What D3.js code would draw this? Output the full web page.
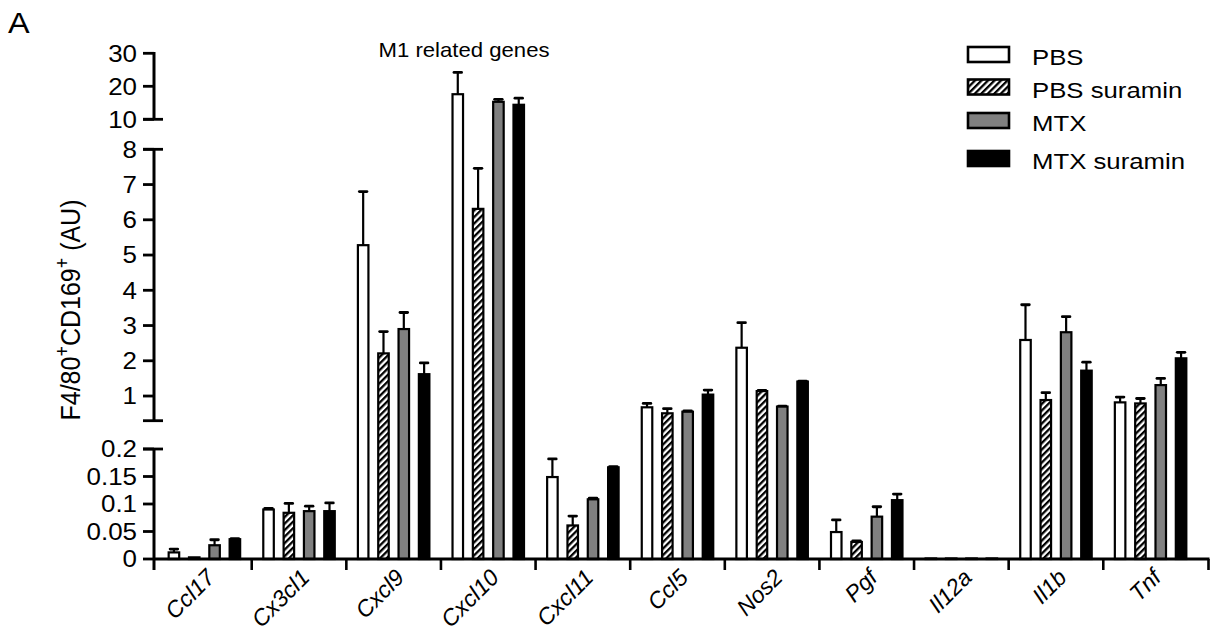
<!DOCTYPE html>
<html>
<head>
<meta charset="utf-8">
<script src="https://cdn.jsdelivr.net/npm/d3@7"></script>
<style>
  html, body { margin: 0; padding: 0; background: #fff; }
  svg { display: block; font-family: "Liberation Sans", Arial, sans-serif; }
</style>
</head>
<body>
<svg id="chart" width="1213" height="636"></svg>
<script>
// ---------- data ----------
const categories = ["Ccl17","Cx3cl1","Cxcl9","Cxcl10","Cxcl11","Ccl5","Nos2","Pgf","Il12a","Il1b","Tnf"];
const seriesNames = ["PBS","PBS suramin","MTX","MTX suramin"];
const pbs        = [0.012, 0.090, 5.28, 17.6, 0.149, 0.68, 2.37, 0.049, 0.001, 2.59, 0.82];
const pbsErr     = [0.006, 0.002, 1.52, 6.6, 0.033, 0.11, 0.71, 0.022, 0.000, 1.00, 0.15];
const pbsSur     = [0.003, 0.084, 2.21, 6.31, 0.061, 0.51, 1.14, 0.031, 0.001, 0.886, 0.79];
const pbsSurErr  = [0.000, 0.017, 0.62, 1.15, 0.017, 0.13, 0.02, 0.002, 0.000, 0.21, 0.14];
const mtx        = [0.025, 0.087, 2.90, 15.3, 0.1085, 0.555, 0.70, 0.077, 0.001, 2.81, 1.31];
const mtxErr     = [0.010, 0.009, 0.47, 0.75, 0.002, 0.02, 0.01, 0.018, 0.000, 0.44, 0.19];
const mtxSur     = [0.036, 0.087, 1.62, 14.4, 0.1667, 1.04, 1.41, 0.107, 0.001, 1.72, 2.07];
const mtxSurErr  = [0.001, 0.015, 0.32, 2.0, 0.001, 0.13, 0.01, 0.011, 0.000, 0.24, 0.17];
const ticksTop = [10, 20, 30];
const ticksMid = [1, 2, 3, 4, 5, 6, 7, 8];
const ticksBot = [0, 0.05, 0.1, 0.15, 0.2];
const tickLabel = v => String(v);

const seriesValues = [pbs, pbsSur, mtx, mtxSur];
const seriesErrors = [pbsErr, pbsSurErr, mtxErr, mtxSurErr];

// ---------- layout ----------
const svg = d3.select("#chart");
const FONT = '"Liberation Sans", Arial, sans-serif';
const SX = 1.08; // horizontal stretch of the reference text

const axisX = 154;
const baseY = 559;
// broken (polylinear) y scale: [0,0.2] | [0.3,8] | [10,30]
const y = d3.scaleLinear()
  .domain([0, 0.2, 0.3, 8, 10, 30])
  .range([559, 449, 420.7, 149.3, 119.3, 53.3]);

const x = d3.scaleBand().domain(categories).range([157.1, 1197.9]).padding(0);
const xs = d3.scaleBand().domain(seriesNames).range([0, x.bandwidth()])
  .paddingInner(0.384).paddingOuter(0.52);

const fills = ["#ffffff", "url(#hatch)", "#808080", "#000000"];

// hatch pattern
const defs = svg.append("defs");
const pat = defs.append("pattern").attr("id", "hatch")
  .attr("patternUnits", "userSpaceOnUse").attr("width", 4.6).attr("height", 4.6)
  .attr("patternTransform", "rotate(45)");
pat.append("rect").attr("width", 4.6).attr("height", 4.6).attr("fill", "#fff");
pat.append("rect").attr("x", 0).attr("width", 2.3).attr("height", 4.6).attr("fill", "#000");

// ---------- bars ----------
const barData = [];
categories.forEach((c, i) => {
  seriesNames.forEach((s, j) => {
    barData.push({ c, s, j, v: seriesValues[j][i], e: seriesErrors[j][i] });
  });
});

const gBars = svg.append("g");
gBars.selectAll("g.err").data(barData.filter(d => d.e > 0)).join("g").attr("class", "err")
  .each(function(d) {
    const cx = x(d.c) + xs(d.s) + xs.bandwidth() / 2;
    const g = d3.select(this);
    g.append("line").attr("x1", cx).attr("x2", cx)
      .attr("y1", y(d.v)).attr("y2", y(d.v + d.e))
      .attr("stroke", "#000").attr("stroke-width", 2.2);
    g.append("line").attr("x1", cx - 3.8).attr("x2", cx + 3.8)
      .attr("y1", y(d.v + d.e)).attr("y2", y(d.v + d.e))
      .attr("stroke", "#000").attr("stroke-width", 2.8).attr("stroke-linecap", "round");
  });

gBars.selectAll("rect.bar").data(barData).join("rect").attr("class", "bar")
  .attr("x", d => x(d.c) + xs(d.s) + 1)
  .attr("width", xs.bandwidth() - 2)
  .attr("y", d => y(d.v))
  .attr("height", d => Math.max(0, baseY - y(d.v)))
  .attr("fill", d => fills[d.j])
  .attr("stroke", "#000").attr("stroke-width", 2.2);

// ---------- y axis (broken) ----------
const gY = svg.append("g").attr("stroke", "#000").attr("fill", "none");
gY.append("line").attr("x1", axisX).attr("x2", axisX).attr("y1", y(30) - 1.3).attr("y2", y(10)).attr("stroke-width", 3);
gY.append("line").attr("x1", axisX).attr("x2", axisX).attr("y1", y(8)).attr("y2", y(0.3)).attr("stroke-width", 3);
gY.append("line").attr("x1", axisX).attr("x2", axisX).attr("y1", y(0.2)).attr("y2", baseY).attr("stroke-width", 3);
[10, 8, 0.3, 0.2].forEach(v => {
  gY.append("line").attr("x1", 143).attr("x2", 163).attr("y1", y(v)).attr("y2", y(v)).attr("stroke-width", 2.8);
});
const allTicks = [...ticksTop, ...ticksMid, ...ticksBot];
gY.selectAll("line.tick").data(allTicks).join("line").attr("class", "tick")
  .attr("x1", 143).attr("x2", axisX).attr("y1", d => y(d)).attr("y2", d => y(d))
  .attr("stroke-width", 2.8);
svg.append("g").selectAll("text").data(allTicks).join("text")
  .attr("transform", d => `translate(137,${y(d)}) scale(${SX},1)`)
  .attr("dy", "0.35em").attr("text-anchor", "end")
  .attr("font-size", 24).attr("font-family", FONT).attr("fill", "#000")
  .text(tickLabel);

// ---------- x axis ----------
const gX = svg.append("g").attr("stroke", "#000");
gX.append("line").attr("x1", axisX).attr("x2", 1209.5).attr("y1", baseY).attr("y2", baseY).attr("stroke-width", 3);
const boundaries = categories.slice(1).map(c => x(c)).concat([1208.5]);
gX.selectAll("line.xt").data(boundaries).join("line").attr("class", "xt")
  .attr("x1", d => d).attr("x2", d => d).attr("y1", baseY).attr("y2", baseY + 11)
  .attr("stroke-width", 2.6);
gX.append("line").attr("x1", axisX).attr("x2", axisX).attr("y1", baseY).attr("y2", baseY + 11).attr("stroke-width", 3);

// rotated category labels (-45 degrees, anchored at their end)
svg.append("g").selectAll("text.lab").data(categories).join("text").attr("class", "lab")
  .attr("transform", d => `translate(${x(d) + x.bandwidth() / 2 + 12},579) rotate(-45)`)
  .attr("text-anchor", "end")
  .attr("font-size", 23).attr("font-style", "italic").attr("font-family", FONT)
  .text(d => d);

// ---------- titles ----------
svg.append("text").attr("transform", `translate(8,33) scale(${SX},1)`)
  .attr("font-size", 30).attr("font-family", FONT).text("A");

svg.append("text").attr("transform", `translate(464,57) scale(${SX},1)`)
  .attr("text-anchor", "middle").attr("font-size", 20.5).attr("font-family", FONT)
  .text("M1 related genes");

const yt = svg.append("text")
  .attr("transform", `translate(80,310) scale(${SX},1) rotate(-90)`)
  .attr("text-anchor", "middle").attr("font-size", 25).attr("font-family", FONT);
yt.append("tspan").text("F4/80");
yt.append("tspan").attr("font-size", 18).attr("dy", -10).text("+");
yt.append("tspan").attr("dy", 10).text("CD169");
yt.append("tspan").attr("font-size", 18).attr("dy", -10).text("+");
yt.append("tspan").attr("dy", 10).text(" (AU)");

// ---------- legend ----------
const legRows = [46, 78.5, 112, 150];
const leg = svg.append("g");
seriesNames.forEach((s, j) => {
  leg.append("rect").attr("x", 968).attr("y", legRows[j] + 1)
    .attr("width", 41).attr("height", 15)
    .attr("fill", fills[j]).attr("stroke", "#000").attr("stroke-width", 2.6);
  leg.append("text").attr("transform", `translate(1032,${legRows[j] + 19}) scale(1.12,1)`)
    .attr("font-size", 23).attr("font-family", FONT).text(s);
});
</script>
</body>
</html>
